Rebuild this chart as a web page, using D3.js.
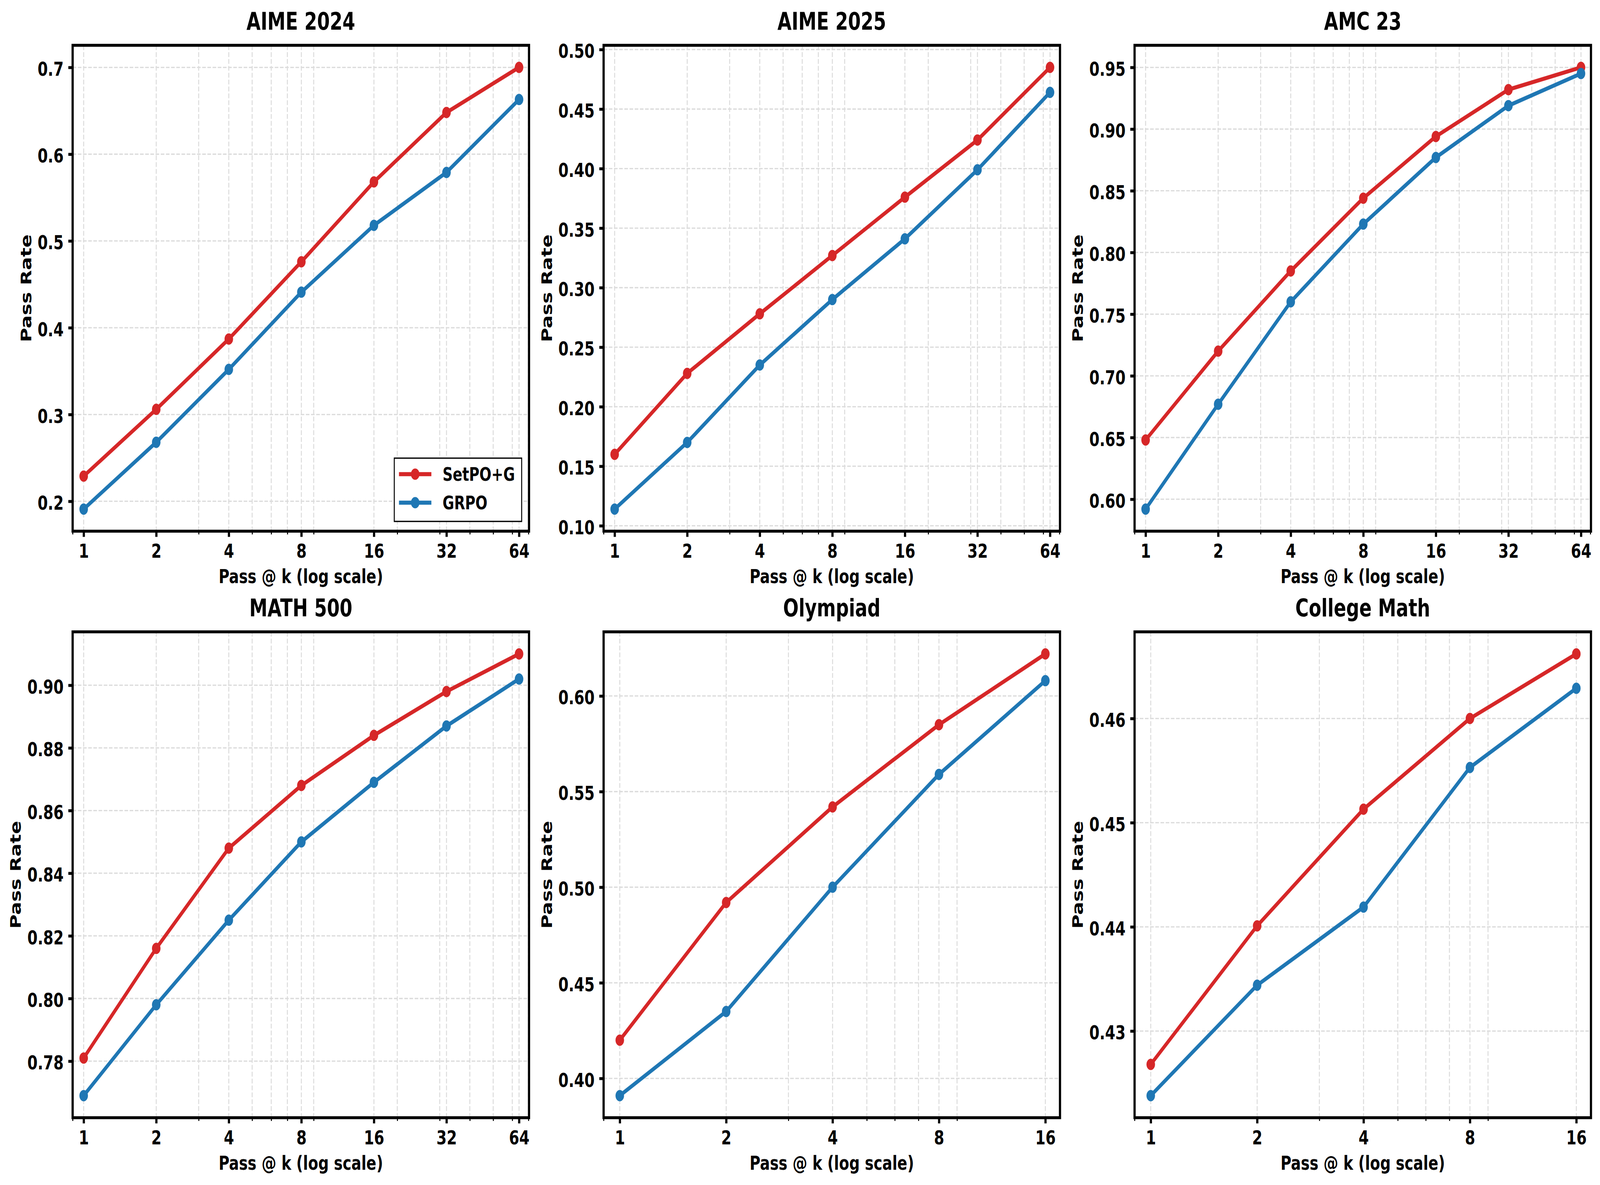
<!DOCTYPE html>
<html>
<head>
<meta charset="utf-8">
<script src="https://cdn.jsdelivr.net/npm/d3@7"></script>
<style>
  html, body { margin: 0; padding: 0; background: #fff; overflow: hidden; }
  svg { display: block; width: 100vw; height: 100vh; }
  text { font-family: "DejaVu Sans", sans-serif; font-weight: bold; fill: #000; }
</style>
</head>
<body>
<div id="chart"></div>
<script>
const width = 5434;
const height = 3034;

// ---- data ----
const seriesNames = ["SetPO+G", "GRPO"];
const titles = ["AIME 2024", "AIME 2025", "AMC 23", "MATH 500", "Olympiad", "College Math"];
const kLong = [1, 2, 4, 8, 16, 32, 64];
const kShort = [1, 2, 4, 8, 16];

const setpoAime24 = [0.229, 0.306, 0.387, 0.476, 0.568, 0.648, 0.700];
const grpoAime24 = [0.191, 0.268, 0.352, 0.441, 0.518, 0.579, 0.663];
const setpoAime25 = [0.160, 0.228, 0.278, 0.327, 0.376, 0.424, 0.485];
const grpoAime25 = [0.114, 0.170, 0.235, 0.290, 0.341, 0.399, 0.464];
const setpoAmc23 = [0.648, 0.720, 0.785, 0.844, 0.894, 0.932, 0.950];
const grpoAmc23 = [0.592, 0.677, 0.760, 0.823, 0.877, 0.919, 0.945];
const setpoMath500 = [0.781, 0.816, 0.848, 0.868, 0.884, 0.898, 0.910];
const grpoMath500 = [0.769, 0.798, 0.825, 0.850, 0.869, 0.887, 0.902];
const setpoOlympiad = [0.420, 0.492, 0.542, 0.585, 0.622];
const grpoOlympiad = [0.391, 0.435, 0.500, 0.559, 0.608];
const setpoCollege = [0.4268, 0.4401, 0.4513, 0.4600, 0.4662];
const grpoCollege = [0.4238, 0.4344, 0.4419, 0.4553, 0.4629];

// y tick values
const yTicksAime24 = [0.2, 0.3, 0.4, 0.5, 0.6, 0.7];
const yTicksAime25 = [0.10, 0.15, 0.20, 0.25, 0.30, 0.35, 0.40, 0.45, 0.50];
const yTicksAmc23 = [0.60, 0.65, 0.70, 0.75, 0.80, 0.85, 0.90, 0.95];
const yTicksMath500 = [0.78, 0.80, 0.82, 0.84, 0.86, 0.88, 0.90];
const yTicksOlympiad = [0.40, 0.45, 0.50, 0.55, 0.60];
const yTicksCollege = [0.43, 0.44, 0.45, 0.46];

const panels = [
	{ title: titles[0], k: kLong, s: [setpoAime24, grpoAime24], ticks: yTicksAime24, fmt: ".1f", legend: true },
	{ title: titles[1], k: kLong, s: [setpoAime25, grpoAime25], ticks: yTicksAime25, fmt: ".2f" },
	{ title: titles[2], k: kLong, s: [setpoAmc23, grpoAmc23], ticks: yTicksAmc23, fmt: ".2f" },
	{ title: titles[3], k: kLong, s: [setpoMath500, grpoMath500], ticks: yTicksMath500, fmt: ".2f" },
	{ title: titles[4], k: kShort, s: [setpoOlympiad, grpoOlympiad], ticks: yTicksOlympiad, fmt: ".2f" },
	{ title: titles[5], k: kShort, s: [setpoCollege, grpoCollege], ticks: yTicksCollege, fmt: ".2f" },
];

const colors = ["#d62728", "#1f77b4"];

// layout (pixels)
const colX = [246.7, 2050, 3853.3];
const rowY = [116, 1617.7];
const axW = 1550;
const axH = 1244;

// drawing units stay 5434 x 3034, the svg is stretched over the whole window
const svg = d3
	.select("#chart")
	.append("svg")
	.attr("viewBox", `0 0 ${width} ${height}`)
	.attr("preserveAspectRatio", "none");

panels.forEach(function (p, i) {
	const g = svg
		.append("g")
		.attr("transform", `translate(${colX[i % 3]},${rowY[Math.floor(i / 3)]})`);

	const x = d3
		.scaleLog()
		.domain([p.k[0] * 0.9, p.k[p.k.length - 1] * 1.1])
		.range([0, axW]);

	// matplotlib style 5% auto margins
	const all = p.s[0].concat(p.s[1]);
	const lo = d3.min(all), hi = d3.max(all), pad = (hi - lo) * 0.05;
	const y = d3.scaleLinear().domain([lo - pad, hi + pad]).range([axH, 0]);

	// minor log ticks (2..9 x 10^n), skipping the major ones
	const [d0, d1] = x.domain();
	const minor = [];
	for (let e = Math.floor(Math.log10(d0)); e <= Math.ceil(Math.log10(d1)); e++) {
		for (let m = 2; m <= 9; m++) {
			const v = m * Math.pow(10, e);
			if (v >= d0 - 1e-9 && v <= d1 + 1e-9 && !p.k.some((k) => Math.abs(k - v) < 1e-9)) minor.push(v);
		}
	}

	// grid
	const grid = g.append("g").attr("stroke", "#dcdcdc").attr("stroke-width", 3.3).attr("stroke-dasharray", "12.3,5.3");
	grid.selectAll(".hg").data(p.ticks).join("line")
		.attr("x1", 0).attr("x2", axW)
		.attr("y1", (d) => y(d)).attr("y2", (d) => y(d));
	grid.selectAll(".vg").data(p.k.concat(minor)).join("line")
		.attr("y1", 0).attr("y2", axH)
		.attr("x1", (d) => x(d)).attr("x2", (d) => x(d));

	// series
	const line = d3.line().x((d) => x(d[0])).y((d) => y(d[1]));
	p.s.forEach(function (vals, si) {
		const pts = p.k.map((k, j) => [k, vals[j]]);
		g.append("path")
			.datum(pts)
			.attr("d", line)
			.attr("fill", "none")
			.attr("stroke", colors[si])
			.attr("stroke-width", 10.4)
			.attr("stroke-linejoin", "round");
		g.append("g").selectAll("circle").data(pts).join("circle")
			.attr("cx", (d) => x(d[0]))
			.attr("cy", (d) => y(d[1]))
			.attr("r", 14.5)
			.attr("fill", colors[si]);
	});

	// spines
	g.append("rect")
		.attr("width", axW).attr("height", axH)
		.attr("fill", "none").attr("stroke", "#000").attr("stroke-width", 7.5);

	// axes
	const yAxis = g.append("g")
		.call(d3.axisLeft(y).tickValues(p.ticks).tickFormat(d3.format(p.fmt)).tickSize(14.6).tickPadding(16));
	const xAxis = g.append("g").attr("transform", `translate(0,${axH})`)
		.call(d3.axisBottom(x).tickValues(p.k).tickFormat((d) => d).tickSize(14.6).tickPadding(18));
	const xMinor = g.append("g").attr("transform", `translate(0,${axH})`)
		.call(d3.axisBottom(x).tickValues(minor).tickFormat("").tickSize(8.3));
	[yAxis, xAxis, xMinor].forEach((a) => a.select(".domain").remove());
	yAxis.selectAll("line").attr("stroke", "#000").attr("stroke-width", 7.5);
	xAxis.selectAll("line").attr("stroke", "#000").attr("stroke-width", 7.5);
	xMinor.selectAll("line").attr("stroke", "#000").attr("stroke-width", 3.5);
	yAxis.selectAll("text").attr("font-size", 50).attr("dy", "0.42em")
		.style("font-family", "DejaVu Sans").style("font-weight", "bold");
	xAxis.selectAll("text").attr("font-size", 50)
		.style("font-family", "DejaVu Sans").style("font-weight", "bold");

	// title and labels
	g.append("text")
		.attr("x", axW / 2).attr("y", -40)
		.attr("text-anchor", "middle").attr("font-size", 62)
		.text(p.title);
	g.append("text")
		.attr("x", axW / 2).attr("y", axH + 133)
		.attr("text-anchor", "middle").attr("font-size", 50)
		.text("Pass @ k (log scale)");
	// y label sits left of the widest tick label
	const minX = d3.min(yAxis.selectAll("text").nodes(), (n) => n.getBBox().x + n.parentNode.transform.baseVal.consolidate().matrix.e);
	g.append("text")
		.attr("transform", `translate(${minX - 22},${axH / 2}) rotate(-90)`)
		.attr("text-anchor", "middle").attr("font-size", 50)
		.text("Pass Rate");

	// legend
	if (p.legend) {
		const lg = g.append("g");
		const labels = lg.selectAll("text").data(seriesNames).join("text")
			.attr("font-size", 48)
			.text((d) => d);
		const textW = d3.max(labels.nodes(), (n) => n.getComputedTextLength());
		const boxW = 164 + textW + 23, boxH = 162;
		const bx = axW - 25 - boxW, by = axH - 25 - boxH;
		lg.insert("rect", "text")
			.attr("x", bx).attr("y", by).attr("width", boxW).attr("height", boxH)
			.attr("fill", "#fff").attr("stroke", "#000").attr("stroke-width", 3.3);
		labels.attr("x", bx + 164).attr("y", (d, j) => by + 41 + j * 73 + 17.5);
		seriesNames.forEach(function (name, j) {
			const cy = by + 41 + j * 73;
			lg.append("line")
				.attr("x1", bx + 16).attr("x2", bx + 126)
				.attr("y1", cy).attr("y2", cy)
				.attr("stroke", colors[j]).attr("stroke-width", 10.4);
			lg.append("circle")
				.attr("cx", bx + 71).attr("cy", cy).attr("r", 14.5)
				.attr("fill", colors[j]);
		});
	}
});
</script>
</body>
</html>
